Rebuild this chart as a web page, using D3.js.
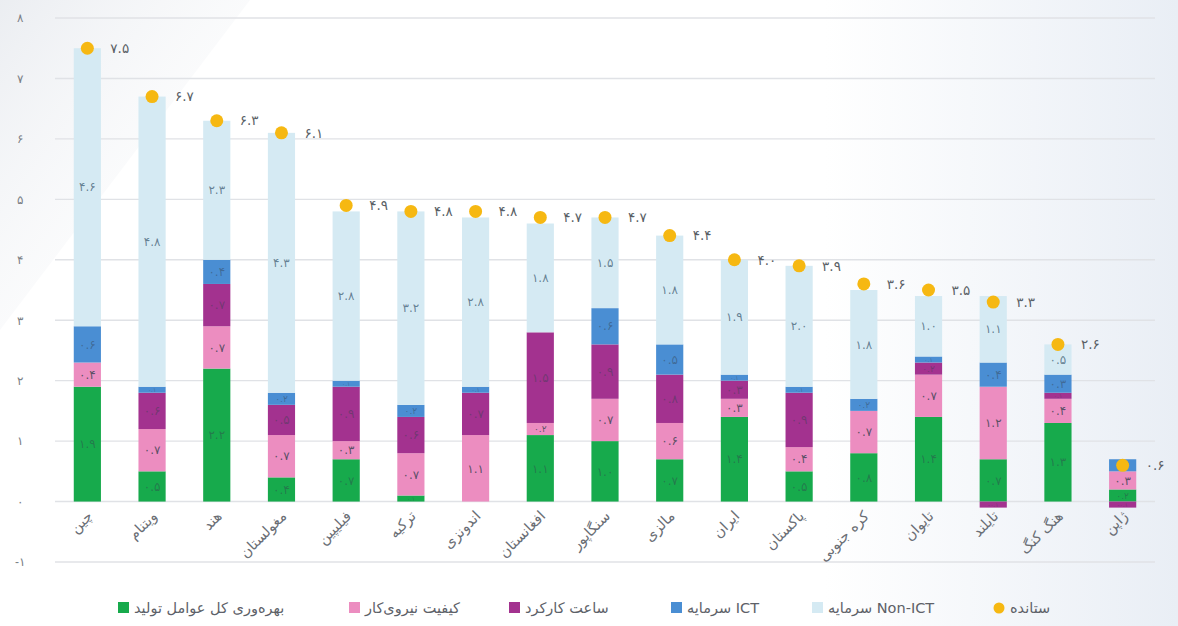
<!DOCTYPE html>
<html lang="fa">
<head>
<meta charset="utf-8">
<script src="https://cdn.jsdelivr.net/npm/d3@7"></script>
<style>
  html, body { margin: 0; padding: 0; background: #ffffff; }
  svg { display: block; font-family: "DejaVu Sans", "Noto Sans", sans-serif; }
</style>
</head>
<body>
<svg id="chart" width="1178" height="626"></svg>
<script>
// Countries, ordered by output growth
const categories = ["چین","ویتنام","هند","مغولستان","فیلیپین","ترکیه","اندونزی","افغانستان","سنگاپور","مالزی","ایران","پاکستان","کره جنوبی","تایوان","تایلند","هنگ کنگ","ژاپن"];

// Contribution of each source to output growth (percentage points)
const tfp           = [1.9,0.5,2.2,0.4,0.7,0.1,0.0,1.1,1.0,0.7,1.4,0.5,0.8,1.4,0.7,1.3,0.2];
const laborQuality  = [0.4,0.7,0.7,0.7,0.3,0.7,1.1,0.2,0.7,0.6,0.3,0.4,0.7,0.7,1.2,0.4,0.3];
const hoursWorked   = [0.0,0.6,0.7,0.5,0.9,0.6,0.7,1.5,0.9,0.8,0.3,0.9,0.0,0.2,-0.1,0.1,-0.1];
const ictCapital    = [0.6,0.1,0.4,0.2,0.1,0.2,0.1,0.0,0.6,0.5,0.1,0.1,0.2,0.1,0.4,0.3,0.2];
const nonIctCapital = [4.6,4.8,2.3,4.3,2.8,3.2,2.8,1.8,1.5,1.8,1.9,2.0,1.8,1.0,1.1,0.5,0.0];
const output        = [7.5,6.7,6.3,6.1,4.9,4.8,4.8,4.7,4.7,4.4,4.0,3.9,3.6,3.5,3.3,2.6,0.6];

const yTicks = [-1,0,1,2,3,4,5,6,7,8];

const seriesKeys   = ["tfp","laborQuality","hoursWorked","ictCapital","nonIctCapital"];
const seriesNames  = ["بهره‌وری کل عوامل تولید","کیفیت نیروی‌کار","ساعت کارکرد","سرمایه ICT","سرمایه Non-ICT"];
const seriesColors = ["#17aa4c","#ec8dc0","#a3328f","#4a8ed3","#d5eaf3"];
const outputName = "ستانده";
const outputColor = "#f6b812";

const rows = categories.map((c, i) => ({
  country: c,
  tfp: tfp[i], laborQuality: laborQuality[i], hoursWorked: hoursWorked[i],
  ictCapital: ictCapital[i], nonIctCapital: nonIctCapital[i], output: output[i]
}));

// Persian digits
const faDigits = "۰۱۲۳۴۵۶۷۸۹";
function fa(v, decimals) {
  const s = decimals === 0 ? String(Math.round(Math.abs(v))) : Math.abs(v).toFixed(1);
  const body = s.replace(/[0-9]/g, d => faDigits[+d]);
  return (v < 0 ? "-" : "") + body;
}

const W = 1178, H = 626;
const svg = d3.select("#chart");

// Soft page background
const defs = svg.append("defs");
const bg = defs.append("linearGradient").attr("id","bgGrad").attr("x1","0").attr("x2","1").attr("y1","0").attr("y2","0");
bg.append("stop").attr("offset","0").attr("stop-color","#ffffff");
bg.append("stop").attr("offset","0.7").attr("stop-color","#ffffff");
bg.append("stop").attr("offset","1").attr("stop-color","#e9eef5");
svg.append("rect").attr("width",W).attr("height",H).attr("fill","url(#bgGrad)");
const tl = defs.append("linearGradient").attr("id","tlGrad").attr("x1","0").attr("x2","1").attr("y1","0").attr("y2","1");
tl.append("stop").attr("offset","0").attr("stop-color","#e6e9ee").attr("stop-opacity",0.8);
tl.append("stop").attr("offset","1").attr("stop-color","#ffffff").attr("stop-opacity",0);
svg.append("path").attr("d","M0,0 L250,0 L0,330 Z").attr("fill","url(#tlGrad)");

const x = d3.scaleBand().domain(categories).range([55, 1155]).paddingInner(0.58).paddingOuter(0.29);
const y = d3.scaleLinear().domain([-1, 8]).range([562, 18]);

// Gridlines and y tick labels
svg.append("g").selectAll("line").data(yTicks).join("line")
  .attr("x1", 55).attr("x2", 1155)
  .attr("y1", d => y(d)).attr("y2", d => y(d))
  .attr("stroke", "#e0e2e6").attr("stroke-width", 1.4);

const yAxis = d3.axisLeft(y).tickValues(yTicks).tickSize(0).tickPadding(0).tickFormat(d => fa(d, 0));
const yg = svg.append("g").attr("transform", "translate(20,0)").call(yAxis);
yg.select(".domain").remove();
yg.selectAll("text").attr("text-anchor","middle").attr("font-size", 12).attr("fill", "#7b7f86").attr("direction","ltr");

// Stacked bars (negatives stack below zero)
const stack = d3.stack().keys(seriesKeys).offset(d3.stackOffsetDiverging);
const layers = stack(rows);
const bw = x.bandwidth();

const barG = svg.append("g");
layers.forEach((layer, li) => {
  barG.append("g").attr("fill", seriesColors[li])
    .selectAll("rect").data(layer).join("rect")
    .attr("x", d => x(d.data.country))
    .attr("y", d => y(Math.max(d[0], d[1])))
    .attr("width", bw)
    .attr("height", d => Math.abs(y(d[0]) - y(d[1])));
});

// Segment value labels, sized to fit thin segments
const labG = svg.append("g").attr("text-anchor","middle").attr("direction","ltr");
layers.forEach((layer, li) => {
  labG.selectAll(null).data(layer.filter(d => Math.abs(d.data[layer.key]) >= 0.05)).join("text")
    .attr("x", d => x(d.data.country) + bw / 2)
    .attr("y", d => y((d[0] + d[1]) / 2))
    .attr("dy", "0.35em")
    .attr("font-size", d => Math.max(6, Math.min(12, Math.abs(y(d[0]) - y(d[1])) * 0.75)))
    .attr("fill", li === 4 ? "#5f7a8e" : "#34404e")
    .attr("fill-opacity", li === 4 ? 0.95 : (li === 1 ? 0.8 : 0.45))
    .text(d => fa(d.data[layer.key]));
});

// Output markers and labels
const outG = svg.append("g");
outG.selectAll("circle").data(rows).join("circle")
  .attr("cx", d => x(d.country) + bw / 2)
  .attr("cy", d => y(d.output))
  .attr("r", 6.5)
  .attr("fill", outputColor);
outG.selectAll("text").data(rows).join("text")
  .attr("x", d => x(d.country) + bw / 2 + 23)
  .attr("y", d => y(d.output))
  .attr("dy", "0.35em")
  .attr("font-size", 13.5).attr("fill", "#5a5f66").attr("direction","ltr")
  .text(d => fa(d.output));

// Country labels, slanted
svg.append("g").selectAll("text").data(categories).join("text")
  .attr("transform", d => `translate(${x(d) + bw / 2 + 6},${517}) rotate(-45)`)
  .attr("text-anchor", "end")
  .attr("font-size", 14.5)
  .attr("fill", "#6a6e75")
  .text(d => d);

// Legend: swatch followed by its name
const legendItems = [
  { name: seriesNames[0], color: seriesColors[0], sx: 118 },
  { name: seriesNames[1], color: seriesColors[1], sx: 349 },
  { name: seriesNames[2], color: seriesColors[2], sx: 509 },
  { name: seriesNames[3], color: seriesColors[3], sx: 671 },
  { name: seriesNames[4], color: seriesColors[4], sx: 812 }
];
const lg = svg.append("g");
legendItems.forEach(it => {
  lg.append("rect").attr("x", it.sx).attr("y", 602).attr("width", 11).attr("height", 11).attr("fill", it.color);
  lg.append("text").attr("x", it.sx + 16).attr("y", 608).attr("dy","0.35em")
    .attr("text-anchor","start").attr("font-size", 14.5).attr("fill", "#5d6168").text(it.name);
});
lg.append("circle").attr("cx", 999).attr("cy", 608).attr("r", 5.5).attr("fill", outputColor);
lg.append("text").attr("x", 1010).attr("y", 608).attr("dy","0.35em")
  .attr("text-anchor","start").attr("font-size", 14.5).attr("fill", "#5d6168").text(outputName);
</script>
</body>
</html>
